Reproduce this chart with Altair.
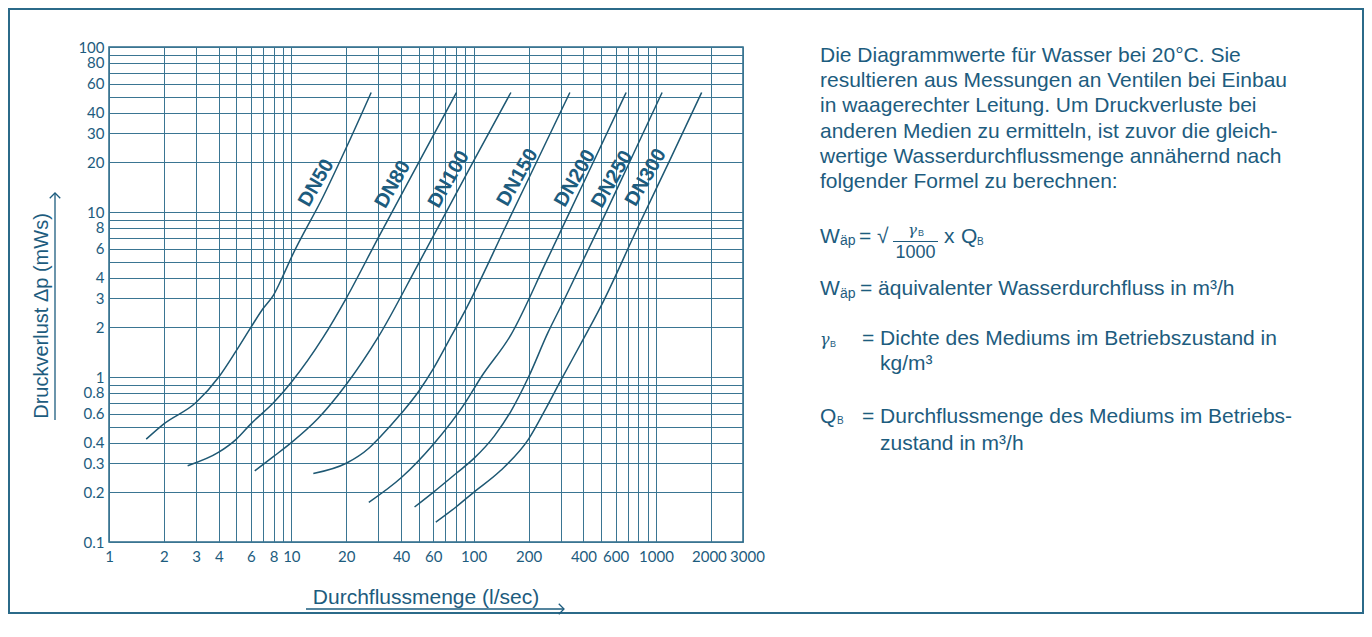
import altair as alt
import pandas as pd

# ---------------- data ----------------
X_GRID = [1, 2, 3, 4, 5, 6, 7, 8, 9, 10, 20, 30, 40, 50, 60, 70, 80, 90, 100,
          200, 300, 400, 500, 600, 700, 800, 900, 1000, 2000, 3000]
X_LABELS = [1, 2, 3, 4, 6, 8, 10, 20, 40, 60, 100, 200, 400, 600, 1000, 2000, 3000]
Y_GRID = [0.1, 0.2, 0.3, 0.4, 0.5, 0.6, 0.7, 0.8, 0.9, 1, 2, 3, 4, 5, 6, 7, 8, 9, 10,
          20, 30, 40, 50, 60, 70, 80, 90, 100]
Y_LABELS = [0.1, 0.2, 0.3, 0.4, 0.6, 0.8, 1, 2, 3, 4, 6, 8, 10, 20, 30, 40, 60, 80, 100]

SERIES = ["DN50", "DN80", "DN100", "DN150", "DN200", "DN250", "DN300"]

DN50_Q = [1.6, 2, 3, 4, 5, 6, 7, 8, 9, 10, 15, 20, 27.4]
DN50_DP = [0.42, 0.52, 0.70, 1.0, 1.45, 2.0, 2.6, 3.15, 4.1, 5.3, 12.5, 24.5, 53]

DN80_Q = [2.7, 4, 5, 6, 8, 10, 15, 20, 30, 50, 80.5]
DN80_DP = [0.29, 0.35, 0.42, 0.52, 0.70, 0.93, 1.75, 3.0, 7.0, 20, 53]

DN100_Q = [6.3, 8, 10, 14, 20, 30, 50, 100, 160]
DN100_DP = [0.27, 0.33, 0.40, 0.56, 0.90, 1.75, 4.9, 20.4, 53]

DN150_Q = [13.2, 20, 26.6, 30.5, 40, 50, 60, 76, 91, 150, 200, 337]
DN150_DP = [0.26, 0.30, 0.37, 0.43, 0.60, 0.82, 1.12, 1.80, 2.6, 8.2, 15.9, 53]

DN200_Q = [26.6, 40, 60, 90, 110, 160, 250, 400, 686]
DN200_DP = [0.174, 0.245, 0.39, 0.70, 1.0, 1.8, 5.0, 15, 53]

DN250_Q = [47.4, 60, 80, 100, 130, 160, 200, 255, 307, 500, 700, 1080]
DN250_DP = [0.163, 0.20, 0.26, 0.32, 0.44, 0.62, 1.0, 1.85, 2.8, 8.6, 19, 53]

DN300_Q = [62, 80, 100, 140, 200, 250, 300, 400, 500, 800, 1200, 1780]
DN300_DP = [0.132, 0.163, 0.20, 0.27, 0.42, 0.65, 0.95, 1.7, 2.7, 8.2, 21, 53]

LABEL_Q = [13.7, 36, 73, 174, 360, 575, 880]
LABEL_DP = [15, 14.7, 15.8, 16.2, 16, 15.8, 16.2]

PARAGRAPH = [
    "Die Diagrammwerte für Wasser bei 20°C. Sie",
    "resultieren aus Messungen an Ventilen bei Einbau",
    "in waagerechter Leitung. Um Druckverluste bei",
    "anderen Medien zu ermitteln, ist zuvor die gleich-",
    "wertige Wasserdurchflussmenge annähernd nach",
    "folgender Formel zu berechnen:",
]
X_TITLE = "Durchflussmenge (l/sec)"
Y_TITLE = "Druckverlust Δp (mWs)"

# ---------------- style ----------------
TEXT = "#1d5c7e"
GRID = "#3a7592"
CURVE = "#1e5873"
BORDER = "#2b6a89"
BODY = "Liberation Sans"
TICKF = "Lato"

Q_LISTS = [DN50_Q, DN80_Q, DN100_Q, DN150_Q, DN200_Q, DN250_Q, DN300_Q]
DP_LISTS = [DN50_DP, DN80_DP, DN100_DP, DN150_DP, DN200_DP, DN250_DP, DN300_DP]
rows = []
for name, qs, dps in zip(SERIES, Q_LISTS, DP_LISTS):
    for i, (q, dp) in enumerate(zip(qs, dps)):
        rows.append({"series": name, "q": q, "dp": dp, "i": i})
curves = pd.DataFrame(rows)
labels_df = pd.DataFrame({"q": LABEL_Q, "dp": LABEL_DP, "name": SERIES})

xscale = alt.Scale(type="log", domain=[1, 3000], nice=False)
yscale = alt.Scale(type="log", domain=[0.1, 100], nice=False)

def lab_expr(vals):
    arr = ",".join(repr(v) for v in vals)
    return f"indexof([{arr}], datum.value) >= 0 ? format(datum.value, '~g') : ''"

xaxis = alt.Axis(values=X_GRID, labelExpr=lab_expr(X_LABELS), grid=True, ticks=False,
                 domain=False, title=None, labelFont=TICKF, labelFontSize=15,
                 labelColor=TEXT, labelPadding=7, labelOverlap=False, labelFlush=False,
                 labelOffset={"expr": "datum.value == 3000 ? 4 : (datum.value == 2000 ? -2 : 0)"},
                 gridColor=GRID, gridWidth=1, gridOpacity=1)
yaxis = alt.Axis(values=Y_GRID, labelExpr=lab_expr(Y_LABELS), grid=True, ticks=False,
                 domain=False, title=None, labelFont=TICKF, labelFontSize=15,
                 labelColor=TEXT, labelPadding=5, labelOverlap=False, labelFlush=False,
                 gridColor=GRID, gridWidth=1, gridOpacity=1)

lines = alt.Chart(curves).mark_line(color=CURVE, strokeWidth=1.5, interpolate="monotone").encode(
    x=alt.X("q:Q", scale=xscale, axis=xaxis),
    y=alt.Y("dp:Q", scale=yscale, axis=yaxis),
    detail="series:N",
    order="i:Q",
)

labels = alt.Chart(labels_df).mark_text(angle=300, font=BODY, fontSize=20, fontWeight="bold",
                                        color=TEXT, align="center", baseline="middle").encode(
    x=alt.X("q:Q", scale=xscale, axis=xaxis),
    y=alt.Y("dp:Q", scale=yscale, axis=yaxis),
    text="name:N",
)

ONE = pd.DataFrame({"k": [0]})

def note(text, x, y, size=21, align="left", baseline="alphabetic", font=BODY,
         angle=None, style=None, weight=None):
    mk = dict(text=text, align=align, baseline=baseline, font=font, fontSize=size, color=TEXT)
    if angle is not None:
        mk["angle"] = angle
    if style is not None:
        mk["fontStyle"] = style
    if weight is not None:
        mk["fontWeight"] = weight
    return alt.Chart(ONE).mark_text(**mk).encode(x=alt.value(x), y=alt.value(y))

def rule(x, x2, y, y2=None, w=1.3):
    enc = dict(x=alt.value(x), x2=alt.value(x2), y=alt.value(y))
    enc["y2"] = alt.value(y if y2 is None else y2)
    return alt.Chart(ONE).mark_rule(color=TEXT, strokeWidth=w).encode(**enc)

def arrow(x, y, shape):
    return alt.Chart(ONE).mark_point(shape=shape, filled=False, size=110, strokeWidth=1.3,
                                     color=TEXT, opacity=1).encode(x=alt.value(x), y=alt.value(y))

notes = []
for i, line in enumerate(PARAGRAPH):
    notes.append(note(line, 711, 15 + 25.2 * i))

# formula
notes += [
    note("W", 711, 196),
    note("äp", 731, 198, size=14),
    note("= √", 750, 196),
    note("γ", 799, 188, size=15, style="italic", font="DejaVu Serif"),
    note("B", 809, 189, size=9),
    rule(784, 829, 194.5, w=1.2),
    note("1000", 806.5, 211, size=18, align="center"),
    note("x", 835, 196),
    note("Q", 852, 196),
    note("B", 868, 198, size=10),
]
# definitions
notes += [
    note("W", 711, 248),
    note("äp", 731, 251, size=14),
    note("= äquivalenter Wasserdurchfluss in m³/h", 751, 248),
    note("γ", 711, 298, size=16, style="italic", font="DejaVu Serif"),
    note("B", 721, 300, size=9),
    note("= Dichte des Mediums im Betriebszustand in", 753, 298),
    note("kg/m³", 771, 323),
    note("Q", 711, 376),
    note("B", 728, 377, size=10),
    note("= Durchflussmenge des Mediums im Betriebs-", 753, 376),
    note("zustand in m³/h", 771, 403),
]
# axis titles with arrows
notes += [
    note(Y_TITLE, -61, 269, size=20, align="center", angle=270),
    rule(-54, -54, 373, 146),
    arrow(-54, 146, "M-1,1L0,0L1,1"),
    note(X_TITLE, 317, 557, size=21, align="center"),
    rule(197, 455, 562),
    arrow(455, 562, "M-1,-1L0,0L-1,1"),
]

frame = alt.Chart(ONE).mark_rect(fillOpacity=0, stroke=BORDER, strokeWidth=2).encode(
    x=alt.value(-100), x2=alt.value(1254), y=alt.value(-38), y2=alt.value(566))

chart = alt.layer(frame, lines, labels, *notes).properties(
    width=634, height=495,
    padding={"left": 101, "top": 39, "right": 621, "bottom": 80},
    autosize=alt.AutoSizeParams(type="none"),
).configure_view(stroke=BORDER, strokeWidth=1.5)

chart.save("out.html", embed_options={"renderer": "svg", "actions": False})
